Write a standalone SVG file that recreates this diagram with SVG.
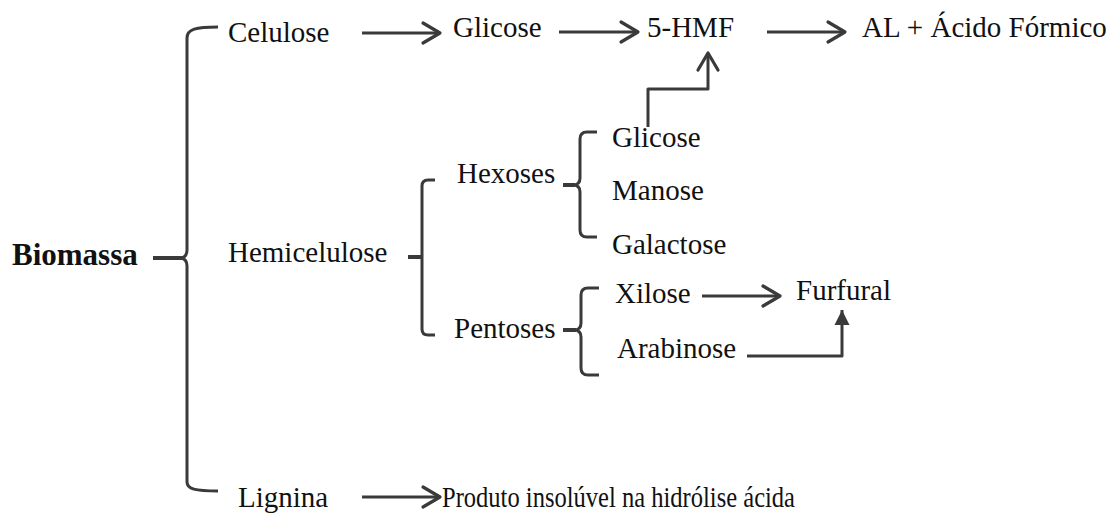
<svg xmlns="http://www.w3.org/2000/svg" width="1120" height="515" viewBox="0 0 1120 515">
<style>
text{font-family:"Liberation Serif","Times New Roman",Times,serif;font-size:29px;fill:#111}
.b{font-weight:bold;font-size:31px}
.ln{fill:none;stroke:#3a3a3a;stroke-width:3;stroke-linejoin:round}
.stub{fill:none;stroke:#3a3a3a;stroke-width:4}
</style>
<defs>
<marker id="chev" viewBox="-20 -12 22 24" refX="0" refY="0" markerUnits="userSpaceOnUse" markerWidth="22" markerHeight="24" orient="auto" overflow="visible">
<path d="M-17,-10 L0,0 L-17,10" fill="none" stroke="#3a3a3a" stroke-width="3.2" stroke-linecap="round" stroke-linejoin="round"/>
</marker>
<marker id="tri" viewBox="-16 -8 17 16" refX="0" refY="0" markerUnits="userSpaceOnUse" markerWidth="17" markerHeight="16" orient="auto" overflow="visible">
<path d="M-15,-7.5 L0,0 L-15,7.5 Z" fill="#3a3a3a"/>
</marker>
</defs>
<rect width="1120" height="515" fill="#fff"/>
<g id="connectors">
<path class="ln" d="M218,27 C196,27 187,29 187,38 V250 Q187,257 181,258 Q187,259 187,266 V482 C187,489 195,491 218,491"/>
<path class="stub" d="M153,258 H182"/>
<path class="ln" d="M435,180 H428 Q422,180 422,186 V329 Q422,335 428,335 H435"/>
<path class="stub" d="M408,257 H422"/>
<path class="ln" d="M597,132 H587 Q580,132 580,139 V178 Q580,185 573,185 Q580,185 580,192 V230 Q580,237 587,237 H597"/>
<path class="stub" d="M563,185 H575"/>
<path class="ln" d="M599,288 H588 Q581,288 581,295 V323 Q581,330 574,330 Q581,330 581,337 V368 Q581,375 588,375 H599"/>
<path class="stub" d="M563,330 H576"/>
<path class="ln" d="M362,33 H440" marker-end="url(#chev)"/>
<path class="ln" d="M559,32 H638" marker-end="url(#chev)"/>
<path class="ln" d="M767,32 H845" marker-end="url(#chev)"/>
<path class="ln" d="M648,127 V89 H708 V53" marker-end="url(#chev)"/>
<path class="ln" d="M702,296 H780" marker-end="url(#chev)"/>
<path class="ln" d="M747,356 H842 V310" marker-end="url(#tri)"/>
<path class="ln" d="M362,497 H440" marker-end="url(#chev)"/>
</g>
<g id="biomassa"><text class="b" x="12" y="265">Biomassa</text></g>
<g id="celulose"><text x="228" y="42">Celulose</text></g>
<g id="glicose1"><text x="453" y="37">Glicose</text></g>
<g id="hmf"><text x="647" y="37">5-HMF</text></g>
<g id="al"><text x="862" y="37">AL + Ácido Fórmico</text></g>
<g id="hemicelulose"><text x="228" y="262">Hemicelulose</text></g>
<g id="hexoses"><text x="457" y="183">Hexoses</text></g>
<g id="glicose2"><text x="612" y="147">Glicose</text></g>
<g id="manose"><text x="612" y="200">Manose</text></g>
<g id="galactose"><text x="612" y="254">Galactose</text></g>
<g id="pentoses"><text x="454" y="338">Pentoses</text></g>
<g id="xilose"><text x="615" y="303">Xilose</text></g>
<g id="arabinose"><text x="617" y="358">Arabinose</text></g>
<g id="furfural"><text x="796" y="300">Furfural</text></g>
<g id="lignina"><text x="238" y="507">Lignina</text></g>
<g id="produto"><text x="442" y="507" textLength="353" lengthAdjust="spacingAndGlyphs">Produto insolúvel na hidrólise ácida</text></g>
</svg>
